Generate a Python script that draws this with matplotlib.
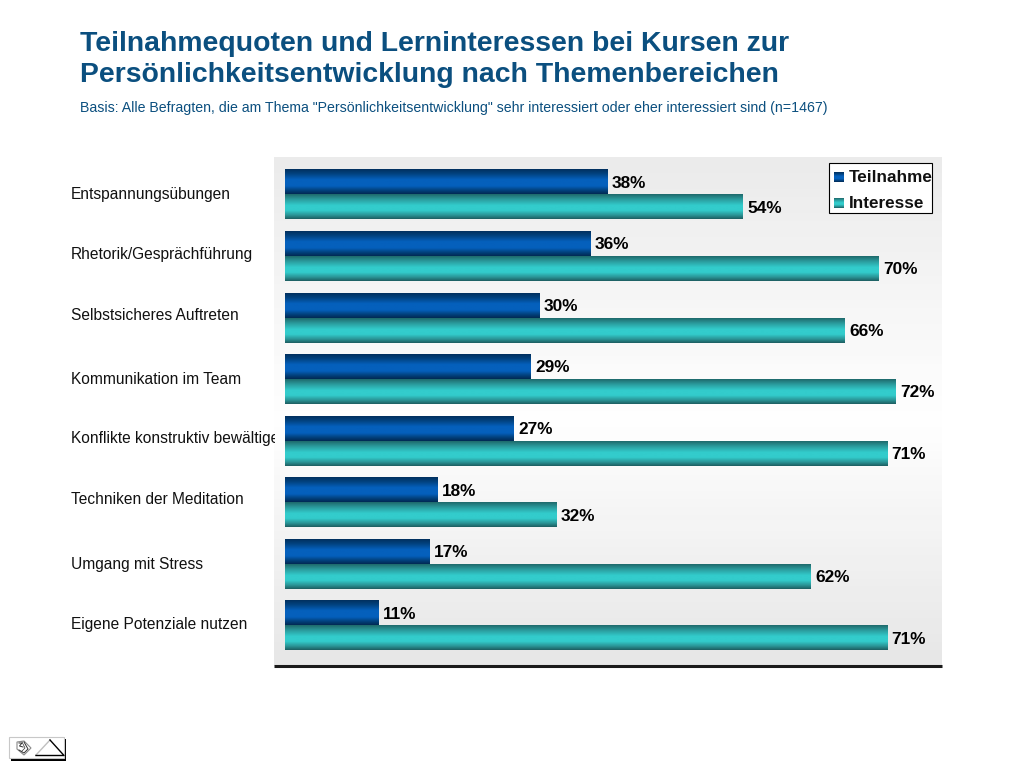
import numpy as np
import matplotlib
matplotlib.use('Agg')
import matplotlib.pyplot as plt
from matplotlib.colors import LinearSegmentedColormap
from matplotlib.patches import Rectangle, Polygon
from matplotlib.transforms import Bbox

plt.rcParams['font.family'] = ['Liberation Sans', 'DejaVu Sans']

##################################################################################
# Data
##################################################################################
TITLE_1 = 'Teilnahmequoten und Lerninteressen bei Kursen zur'
TITLE_2 = 'Persönlichkeitsentwicklung nach Themenbereichen'
SUBTITLE = 'Basis: Alle Befragten, die am Thema "Persönlichkeitsentwicklung" sehr interessiert oder eher interessiert sind (n=1467)'
CATS = [
        'Entspannungsübungen',
        'Rhetorik/Gesprächführung',
        'Selbstsicheres Auftreten',
        'Kommunikation im Team',
        'Konflikte konstruktiv bewältigen',
        'Techniken der Meditation',
        'Umgang mit Stress',
        'Eigene Potenziale nutzen',
       ]
TEILNAHME = [38, 36, 30, 29, 27, 18, 17, 11]
INTERESSE = [54, 70, 66, 72, 71, 32, 62, 71]
SERIES = ['Teilnahme', 'Interesse']

# the category labels do not sit evenly in the original
LABEL_Y = [195, 255, 315, 380, 439, 499, 564, 625]

##################################################################################
# Styles
##################################################################################
W, H = 1024, 768
BLUE = LinearSegmentedColormap.from_list('blue', [(0, '#01305f'), (0.18, '#02427f'), (0.42, '#0560bc'),
                                                  (0.68, '#0560bc'), (0.85, '#02427f'), (1, '#012a55')])
TEAL = LinearSegmentedColormap.from_list('teal', [(0, '#1f6a6c'), (0.2, '#2a9a9c'), (0.45, '#33cccc'),
                                                  (0.65, '#33cccc'), (0.85, '#2a9496'), (1, '#1d5f62')])
PANEL = LinearSegmentedColormap.from_list('panel', [(0, '#ebebeb'), (0.3, '#f7f7f7'), (0.52, '#ffffff'),
                                                    (0.75, '#f3f3f3'), (1, '#e7e7e7')])
BAR_H = 0.405
GRAD = np.linspace(0, 1, 64).reshape(-1, 1)
XLIM = (-11 / 8.48, (942 - 285) / 8.48)
YLIM = ((666 - 194.5) / 61.57, (157 - 194.5) / 61.57)

fig = plt.figure(figsize=(W / 100, H / 100), dpi=100)

# pixel overlay for texts and the small furniture
over = fig.add_axes([0, 0, 1, 1], zorder=3)
over.set_xlim(0, W)
over.set_ylim(H, 0)
over.axis('off')

# main axes, scaled so that 0% sits at x=285 with 8.48 px per percent
ax = fig.add_axes([274 / W, 1 - 666 / H, (942 - 274) / W, (666 - 157) / H], zorder=2)
ax.imshow(GRAD, cmap=PANEL, aspect='auto', extent=[*XLIM, *YLIM], zorder=0)
for s in ['top', 'left', 'right']:
    ax.spines[s].set_visible(False)
ax.spines['bottom'].set_linewidth(2.2)
ax.spines['bottom'].set_color('#1a1a1a')
ax.spines['bottom'].set_capstyle('butt')
ax.set_xticks([])
ax.set_yticks([])

for i in range(len(CATS)):
    for val, cmap, y0 in [(TEILNAHME[i], BLUE, i - BAR_H), (INTERESSE[i], TEAL, i)]:
        ax.imshow(GRAD, cmap=cmap, aspect='auto', extent=[0, val, y0 + BAR_H, y0], zorder=2)
        ax.text(val + 0.5, y0 + BAR_H / 2 + 0.02, '%d%%' % val, ha='left', va='center',
                fontsize=12.4, fontweight='bold', color='#000000', zorder=3)
ax.set_xlim(*XLIM)
ax.set_ylim(*YLIM)

# title block
over.text(80, 44, TITLE_1, fontsize=20.4, fontweight='bold', color='#0b4f7f', ha='left', va='center')
over.text(80, 75.5, TITLE_2, fontsize=20.4, fontweight='bold', color='#0b4f7f', ha='left', va='center')
over.text(80, 108, SUBTITLE, fontsize=10.15, color='#0b4f7f', ha='left', va='center')

# category labels, the long one is cut off at the panel edge
clip = Bbox([[0, 0], [275, H]])
for cat, y in zip(CATS, LABEL_Y):
    t = over.text(71, y, cat, fontsize=11.2, color='#111111', ha='left', va='center')
    t.set_clip_box(clip)
    t.set_clip_on(True)

# legend
over.add_patch(Rectangle((828.5, 162.5), 103, 50, fc='white', ec='black', lw=0.8, zorder=2))
for name, cmap, y in zip(SERIES, [BLUE, TEAL], [177, 203]):
    over.imshow(GRAD, cmap=cmap, aspect='auto', extent=[834, 844, y + 5, y - 5], zorder=3)
    t = over.text(849, y, name, fontsize=12.3, fontweight='bold', color='#111111', ha='left', va='center', zorder=3)
    t.set_clip_box(Bbox([[0, 0], [932, H]]))
    t.set_clip_on(True)
over.set_xlim(0, W)
over.set_ylim(H, 0)

# toolbar icon at the bottom left
over.add_patch(Rectangle((11, 739), 55, 22, fc='black', ec='none', zorder=1))
over.add_patch(Rectangle((9, 737), 55, 21, fc='white', ec='#c8c8c8', lw=0.8, zorder=2))
over.plot([36, 50], [755, 740], color='#c0c0c0', lw=1, zorder=3)
over.plot([36, 64, 50], [755.5, 755.5, 740], color='black', lw=1, zorder=3)
over.add_patch(Polygon([(17, 742), (24, 741), (31, 748), (24, 755), (17, 749)], closed=True,
                       fc='white', ec='#8a8a8a', lw=0.8, zorder=3))
over.plot([19, 22, 19.5, 23], [743, 743, 746, 747], color='#333333', lw=0.7, zorder=4)
over.plot([24, 28, 24, 19], [742, 749, 753, 750], color='#333333', lw=0.7, zorder=4)
over.plot([22, 25, 22], [742, 748, 751], color='#333333', lw=0.5, zorder=4)

fig.savefig('out.png', dpi=100)
